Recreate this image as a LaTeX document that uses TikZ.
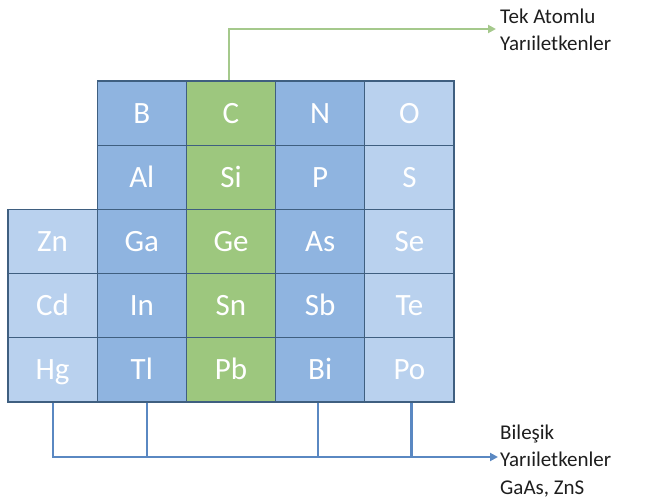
\documentclass[tikz,border=0pt]{standalone}
\usepackage{fontspec}
\setmainfont{Carlito}
\usetikzlibrary{arrows.meta}
\definecolor{dblue}{HTML}{8FB4E0}
\definecolor{lblue}{HTML}{B9D1EE}
\definecolor{cgreen}{HTML}{9DC77E}
\definecolor{cborder}{HTML}{3F5F80}
\definecolor{lineblue}{HTML}{5A88C2}
\definecolor{linegreen}{HTML}{A5C98C}
\definecolor{txt}{HTML}{1E1E1E}
\tikzset{
  cell/.style={rectangle,draw=cborder,line width=1.2pt,minimum width=89.2pt,minimum height=64.2pt,inner sep=0pt,text height=20pt,text depth=0pt,text=white,font=\fontsize{31}{31}\selectfont},
  dcell/.style={cell,fill=dblue},
  lcell/.style={cell,fill=lblue},
  gcell/.style={cell,fill=cgreen},
  lbl/.style={align=left,anchor=west,inner sep=0pt,text=txt,font=\fontsize{21}{27.5}\selectfont},
  garrow/.style={draw=linegreen,line width=2.4pt,-{Triangle[length=8pt,width=8pt]}},
  barrow/.style={draw=lineblue,line width=2.2pt,-{Triangle[length=8pt,width=8pt]}},
  bline/.style={draw=lineblue,line width=2.2pt}
}
\begin{document}
\begin{tikzpicture}[x=1pt,y=-1pt]
\useasboundingbox (0,0) rectangle (647,502);
\node[dcell] (B)  at (141.8,113.1) {B};
\node[gcell] (C)  at (231,113.1) {C};
\node[dcell] (N)  at (320.2,113.1) {N};
\node[lcell] (O)  at (409.4,113.1) {O};
\node[dcell] (Al) at (141.8,177.3) {Al};
\node[gcell] (Si) at (231,177.3) {Si};
\node[dcell] (P)  at (320.2,177.3) {P};
\node[lcell] (S)  at (409.4,177.3) {S};
\node[lcell] (Zn) at (52.6,241.5) {Zn};
\node[dcell] (Ga) at (141.8,241.5) {Ga};
\node[gcell] (Ge) at (231,241.5) {Ge};
\node[dcell] (As) at (320.2,241.5) {As};
\node[lcell] (Se) at (409.4,241.5) {Se};
\node[lcell] (Cd) at (52.6,305.7) {Cd};
\node[dcell] (In) at (141.8,305.7) {In};
\node[gcell] (Sn) at (231,305.7) {Sn};
\node[dcell] (Sb) at (320.2,305.7) {Sb};
\node[lcell] (Te) at (409.4,305.7) {Te};
\node[lcell] (Hg) at (52.6,369.9) {Hg};
\node[dcell] (Tl) at (141.8,369.9) {Tl};
\node[gcell] (Pb) at (231,369.9) {Pb};
\node[dcell] (Bi) at (320.2,369.9) {Bi};
\node[lcell] (Po) at (409.4,369.9) {Po};
% labels
\node[lbl] (tek) at (500,30) {Tek Atomlu\\Yarıiletkenler};
\node[lbl] (bil) at (500,461) {Bileşik\\Yarıiletkenler\\GaAs, ZnS};
% connectors
\coordinate (gtip) at (496,29);
\coordinate (btip) at (498,457);
\draw[garrow] ([xshift=-2pt]C.north) |- (gtip);
\draw[barrow] (Hg.south) |- (btip);
\draw[bline] ([xshift=5pt]Tl.south) -- ([xshift=5pt]Tl.south |- btip);
\draw[bline] ([xshift=-2pt]Bi.south) -- ([xshift=-2pt]Bi.south |- btip);
\draw[bline] ([xshift=2pt]Po.south) -- ([xshift=2pt]Po.south |- btip);
\end{tikzpicture}
\end{document}
